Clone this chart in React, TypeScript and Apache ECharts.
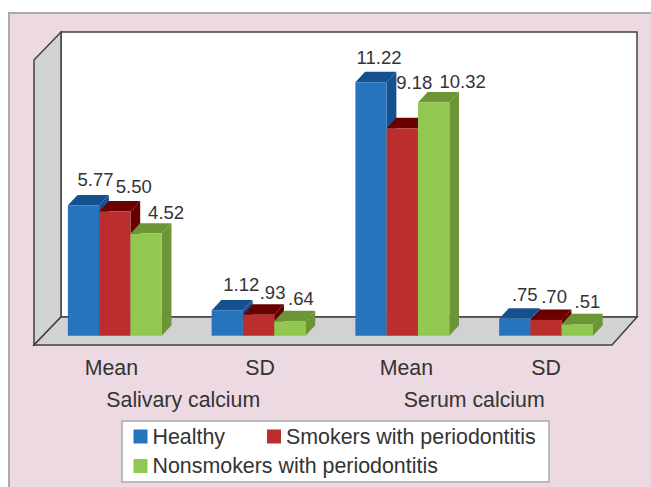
import React, { useEffect, useRef } from "react";
import * as echarts from "echarts";

const categories = ["Mean", "SD", "Mean", "SD"];
const groups = ["Salivary calcium", "Serum calcium"];
const seriesNames = ["Healthy", "Smokers with periodontitis", "Nonsmokers with periodontitis"];
const healthy = [5.77, 1.12, 11.22, 0.75];
const smokers = [5.5, 0.93, 9.18, 0.7];
const nonsmokers = [4.52, 0.64, 10.32, 0.51];
const allValues = [healthy, smokers, nonsmokers];

const frontColors = ["#2874BC", "#BA2F2D", "#92C852"];
const topColors = ["#15508F", "#6B0000", "#6C9536"];
const sideColors = ["#15508F", "#650000", "#6C9536"];

// label nudges from the bar's front-centre / back-top, per series and category
const labelDx = [
  [12, 14, 8, 10],
  [19, 14, 12, 8],
  [20, 11, 29, 10],
];
const labelDy = [
  [-15, -15, -14, -14],
  [-15, -12, -35, -13],
  [-11, -12, -11, -12],
];
// rich-text style key per axis label, which nudges it off the band centre
const categoryNudge = ["left", "right", "farRight", "none"];
const groupNudge = ["left", "none"];

const BAR_W = 31.3;
const DX = 9.7;
const DY = 10.4;
const FONT = '"Liberation Sans", Arial, sans-serif';
const TEXT = "#333333";
const AXIS_FONT = 21.3;

const fmt = (v: number) => (v >= 1 ? v.toFixed(2) : v.toFixed(2).slice(1));

const richBase = { fontSize: AXIS_FONT, fontFamily: FONT, color: TEXT };
const axisRich = {
  none: { ...richBase },
  left: { ...richBase, padding: [0, 7, 0, 0] },
  right: { ...richBase, padding: [0, 0, 0, 3] },
  farRight: { ...richBase, padding: [0, 0, 0, 8] },
};

function makeRender(si: number) {
  return (_params: any, api: any) => {
    const cat = api.value(0);
    const val = api.value(1);
    const top = api.coord([cat, val]);
    const base = api.coord([cat, 0]);
    const x0 = top[0] - 47 + si * BAR_W;
    const x1 = x0 + BAR_W;
    const yT = top[1];
    const yB = base[1];
    return {
      type: "group",
      children: [
        {
          type: "polygon",
          shape: { points: [[x1, yT], [x1 + DX, yT - DY], [x1 + DX, yB - DY], [x1, yB]] },
          style: { fill: sideColors[si] },
        },
        {
          type: "polygon",
          shape: { points: [[x0, yT], [x0 + DX, yT - DY], [x1 + DX, yT - DY], [x1, yT]] },
          style: { fill: topColors[si] },
        },
        {
          type: "rect",
          shape: { x: x0, y: yT, width: BAR_W, height: yB - yT },
          style: { fill: frontColors[si] },
        },
        {
          type: "text",
          z2: 50,
          style: {
            x: (x0 + x1) / 2 + labelDx[si][cat],
            y: yT - DY + labelDy[si][cat],
            text: fmt(val),
            fill: TEXT,
            font: `18.5px ${FONT}`,
            align: "center",
            verticalAlign: "middle",
          },
        },
      ],
    };
  };
}

export default function App() {
  const ref = useRef<HTMLDivElement>(null);
  useEffect(() => {
    const chart = echarts.init(ref.current!, undefined, { renderer: "svg" });
    const wall = "#D0D2D4";
    const edge = "#404040";
    chart.setOption({
      animation: false,
      backgroundColor: "#FFFFFF",
      grid: { left: 43, right: 33, top: 64.5, bottom: 151.3, containLabel: false },
      xAxis: [
        {
          type: "category",
          data: categories,
          position: "bottom",
          axisLine: { show: false },
          axisTick: { show: false },
          axisLabel: {
            interval: 0,
            margin: 22,
            fontSize: AXIS_FONT,
            fontFamily: FONT,
            color: TEXT,
            rich: axisRich,
            formatter: (v: string, i: number) => `{${categoryNudge[i]}|${v}}`,
          },
        },
        {
          type: "category",
          data: groups,
          position: "bottom",
          offset: 32,
          axisLine: { show: false },
          axisTick: { show: false },
          axisLabel: {
            interval: 0,
            margin: 22,
            fontSize: AXIS_FONT,
            fontFamily: FONT,
            color: TEXT,
            rich: axisRich,
            formatter: (v: string, i: number) => `{${groupNudge[i]}|${v}}`,
          },
        },
      ],
      yAxis: { type: "value", min: 0, max: 12, show: false },
      legend: [
        {
          data: seriesNames.slice(0, 2),
          left: 133.5,
          top: 426,
          padding: 0,
          itemGap: 42,
          itemWidth: 14,
          itemHeight: 14,
          icon: "rect",
          selectedMode: false,
          textStyle: { fontSize: 21.4, fontFamily: FONT, color: TEXT },
        },
        {
          data: seriesNames.slice(2),
          left: 133.5,
          top: 455.5,
          padding: 0,
          itemWidth: 14,
          itemHeight: 14,
          icon: "rect",
          selectedMode: false,
          textStyle: { fontSize: 21.4, fontFamily: FONT, color: TEXT },
        },
      ],
      graphic: [
        { type: "rect", z: 0, shape: { x: 9, y: 13, width: 670, height: 500 }, style: { fill: "#ECD9E2", stroke: "#ABABAB", lineWidth: 2 } },
        { type: "rect", z: 0, shape: { x: 61, y: 32, width: 576, height: 285 }, style: { fill: "#FFFFFF", stroke: edge, lineWidth: 1.5 } },
        { type: "polygon", z: 0, shape: { points: [[34, 60], [61, 32], [61, 317], [34, 345]] }, style: { fill: wall, stroke: edge, lineWidth: 1.5 } },
        { type: "polygon", z: 0, shape: { points: [[61, 317], [637, 317], [612, 345], [34, 345]] }, style: { fill: wall, stroke: edge, lineWidth: 1.5 } },
        { type: "rect", z: 0, shape: { x: 122, y: 421, width: 427, height: 61 }, style: { fill: "#FFFFFF", stroke: "#ABABAB", lineWidth: 1.5 } },
      ],
      series: seriesNames.map((name, si) => ({
        type: "custom",
        name,
        clip: false,
        itemStyle: { color: frontColors[si] },
        encode: { x: 0, y: 1 },
        data: allValues[si].map((v, i) => [i, v]),
        renderItem: makeRender(si),
      })),
    });
    return () => chart.dispose();
  }, []);
  return <div ref={ref} style={{ position: "absolute", left: 0, top: 0, width: 651, height: 487 }} />;
}
